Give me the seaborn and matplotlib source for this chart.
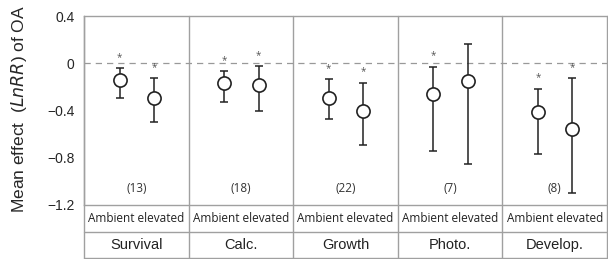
import numpy as np
import pandas as pd
import matplotlib.pyplot as plt
import seaborn as sns

# Data
traits = ["Survival", "Calc.", "Growth", "Photo.", "Develop."]
n_studies = ["(13)", "(18)", "(22)", "(7)", "(8)"]
ambient_mean = [-0.14, -0.17, -0.29, -0.26, -0.415]
ambient_lo = [-0.29, -0.33, -0.475, -0.74, -0.77]
ambient_hi = [-0.04, -0.065, -0.135, -0.03, -0.215]
elevated_mean = [-0.29, -0.18, -0.40, -0.147, -0.557]
elevated_lo = [-0.50, -0.40, -0.695, -0.85, -1.10]
elevated_hi = [-0.125, -0.023, -0.165, 0.167, -0.125]
ambient_sig = [True, True, True, True, True]
elevated_sig = [True, True, True, False, True]

rows = []
for i, t in enumerate(traits):
    rows.append(dict(trait=t, level="Ambient", x=i - 0.16, mean=ambient_mean[i],
                     lo=ambient_lo[i], hi=ambient_hi[i], sig=ambient_sig[i]))
    rows.append(dict(trait=t, level="elevated", x=i + 0.17, mean=elevated_mean[i],
                     lo=elevated_lo[i], hi=elevated_hi[i], sig=elevated_sig[i]))
df = pd.DataFrame(rows)

sns.set_style("white")
plt.rcParams['font.family'] = ['Liberation Sans', 'DejaVu Sans']
frame_col = "#a0a0a0"

fig = plt.figure(figsize=(6.08, 2.59), dpi=100)
ax = fig.add_axes([84 / 608, 54 / 259, 523 / 608, 189 / 259])

ax.axhline(0, color="#999999", lw=0.9, ls=(0, (5, 4)), zorder=1)

# whiskers
ax.errorbar(df["x"], df["mean"],
            yerr=[df["mean"] - df["lo"], df["hi"] - df["mean"]],
            fmt="none", ecolor="#222222", elinewidth=1.1, capsize=3, capthick=1.1, zorder=2)
sns.scatterplot(data=df, x="x", y="mean", ax=ax, s=90, marker="o",
                facecolor="white", edgecolor="#222222", linewidth=1.2, zorder=3, legend=False)

sub_font = ['Open Sans', 'DejaVu Sans']
for _, r in df.iterrows():
    if r["sig"]:
        ax.text(r["x"], r["hi"] + 0.045, "*", ha="center", va="bottom",
                fontsize=7, color="#555555", family=sub_font)
for i, n in enumerate(n_studies):
    ax.text(i, -1.06, n, ha="center", va="center", fontsize=8.5,
            color="#333333", family=sub_font)

ax.set_xlim(-0.5, 4.5)
ax.set_ylim(-1.2, 0.4)
ax.set_yticks([0.4, 0, -0.4, -0.8, -1.2])
ax.set_yticklabels(["0.4", "0", "\u22120.4", "\u22120.8", "\u22121.2"])
ax.tick_params(axis="y", length=4, width=0.9, color=frame_col, labelsize=10, pad=3)
ax.set_xticks([])
ax.set_xlabel("")
ax.set_ylabel("Mean effect  ($\\mathit{LnRR}$) of OA", fontsize=12.5)
ax.yaxis.set_label_coords(-0.106, 0.51)

for s in ["left", "top", "bottom", "right"]:
    ax.spines[s].set_color(frame_col)
    ax.spines[s].set_linewidth(1.0)
ax.spines["right"].set_visible(False)

# table under the plot
y_row1 = -27 / 189
y_row2 = -53 / 189
for i in range(len(traits) + 1):
    ax.plot([i - 0.5, i - 0.5], [-1.2 + (y_row2 * 1.6), 0.4], color=frame_col,
            lw=1.0, clip_on=False, zorder=0)
ax.plot([-0.5, 4.5], [-1.2 + y_row1 * 1.6] * 2, color=frame_col, lw=1.0, clip_on=False)
ax.plot([-0.5, 4.5], [-1.2 + y_row2 * 1.6] * 2, color=frame_col, lw=1.0, clip_on=False)

for i, t in enumerate(traits):
    ax.text(i, -1.2 + (y_row1 / 2) * 1.6, "Ambient elevated", ha="center", va="center",
            fontsize=8.5, color="#222222", family=sub_font, clip_on=False)
    ax.text(i, -1.2 + ((y_row1 + y_row2) / 2) * 1.6, t, ha="center", va="center",
            fontsize=10.5, color="#222222", clip_on=False)

fig.savefig("out.png", dpi=100)
